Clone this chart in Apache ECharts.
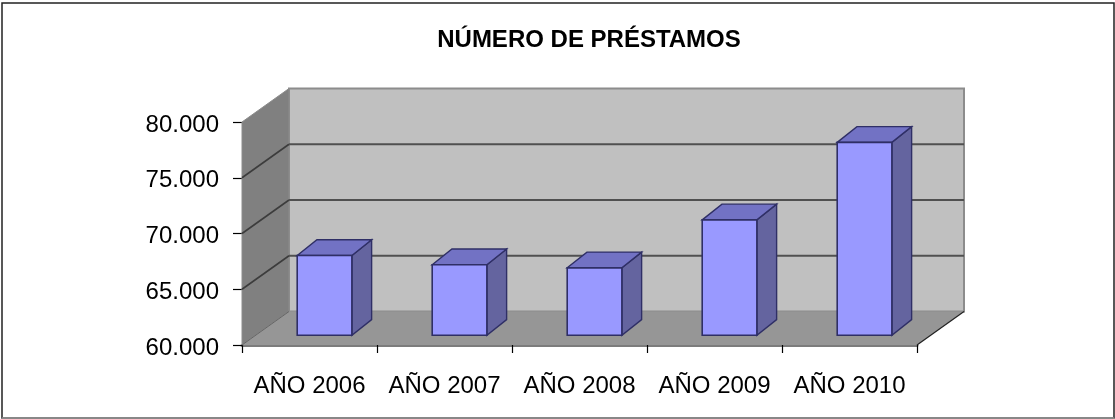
<!DOCTYPE html>
<html>
<head>
<meta charset="utf-8">
<style>
  html, body { margin: 0; padding: 0; background: #fff; }
  #main { width: 1115px; height: 419px; }
</style>
<script src="https://cdn.jsdelivr.net/npm/echarts@6/dist/echarts.min.js"></script>
</head>
<body>
<div id="main"></div>
<script>
var categories = ['AÑO 2006', 'AÑO 2007', 'AÑO 2008', 'AÑO 2009', 'AÑO 2010'];
var prestamos = [67150, 66320, 66050, 70350, 77300];
var yTicks = [60000, 65000, 70000, 75000, 80000];

// 3d look: how far the back wall sits from the front plane, in pixels
var DEPTH_X = 47;
var DEPTH_Y = -33.5;
// where the bars start and how deep they are, as share of the depth
var BAR_FRONT_X = 0.32;
var BAR_FRONT_Y = 0.29;
var BAR_DEPTH_X = 0.42;
var BAR_DEPTH_Y = 0.47;

function poly(points, fill, stroke, width) {
  return {
    type: 'polygon',
    shape: { points: points },
    style: { fill: fill, stroke: stroke || 'none', lineWidth: width || 0 }
  };
}

function seg(x1, y1, x2, y2, color, width) {
  return {
    type: 'line',
    shape: { x1: x1, y1: y1, x2: x2, y2: y2 },
    style: { stroke: color, lineWidth: width }
  };
}

// walls, floor and the gridlines on them
function renderWalls(params, api) {
  var cs = params.coordSys;
  var l = cs.x, r = cs.x + cs.width, t = cs.y, b = cs.y + cs.height;
  var kids = [
    poly([[l + DEPTH_X, t + DEPTH_Y], [r + DEPTH_X, t + DEPTH_Y], [r + DEPTH_X, b + DEPTH_Y], [l + DEPTH_X, b + DEPTH_Y]], '#c0c0c0', '#8c8c8c', 2),
    poly([[l, t], [l + DEPTH_X, t + DEPTH_Y], [l + DEPTH_X, b + DEPTH_Y], [l, b]], '#808080', '#8c8c8c', 1),
    poly([[l, b], [l + DEPTH_X, b + DEPTH_Y], [r + DEPTH_X, b + DEPTH_Y], [r, b]], '#969696')
  ];
  yTicks.slice(1, -1).forEach(function (v) {
    var y = api.coord([0, v])[1];
    kids.push(seg(l, y, l + DEPTH_X, y + DEPTH_Y, '#3c3c3c', 1.6));
    kids.push(seg(l + DEPTH_X, y + DEPTH_Y, r + DEPTH_X, y + DEPTH_Y, '#505050', 2));
  });
  kids.push(seg(r, b, r + DEPTH_X, b + DEPTH_Y, '#222', 1.2));
  kids.push(seg(l, b, l + DEPTH_X, b + DEPTH_Y, '#666', 1));
  return { type: 'group', children: kids };
}

function renderBar(params, api) {
  var top = api.coord([api.value(0), api.value(1)]);
  var base = api.coord([api.value(0), yTicks[0]]);
  var w = api.size([1, 0])[0] * 0.405;
  var ox = DEPTH_X * BAR_FRONT_X, oy = DEPTH_Y * BAR_FRONT_Y;
  var dx = DEPTH_X * BAR_DEPTH_X, dy = DEPTH_Y * BAR_DEPTH_Y;
  var x0 = top[0] - w / 2 + ox, x1 = x0 + w;
  var y0 = top[1] + oy, y1 = base[1] + oy;
  var edge = '#2f2f66';
  return {
    type: 'group',
    children: [
      poly([[x1, y0], [x1 + dx, y0 + dy], [x1 + dx, y1 + dy], [x1, y1]], '#64649f', edge, 1.4),
      poly([[x0, y0], [x0 + dx, y0 + dy], [x1 + dx, y0 + dy], [x1, y0]], '#7272c4', edge, 1.4),
      poly([[x0, y0], [x1, y0], [x1, y1], [x0, y1]], '#9999ff', edge, 1.6)
    ]
  };
}

var chart = echarts.init(document.getElementById('main'));
chart.setOption({
  animation: false,
  backgroundColor: '#fff',
  title: {
    text: 'NÚMERO DE PRÉSTAMOS',
    left: 584,
    top: 23,
    textAlign: 'center',
    textStyle: { fontFamily: 'Liberation Sans', fontSize: 24, fontWeight: 'bold', color: '#000' }
  },
  graphic: [
    {
      type: 'rect',
      silent: true,
      z: -1,
      shape: { x: 2, y: 3, width: 1112, height: 415 },
      style: { fill: '#fff', stroke: '#222', lineWidth: 1.5 }
    },
    {
      type: 'line',
      silent: true,
      z: -1,
      shape: { x1: 2, y1: 418, x2: 1114, y2: 418 },
      style: { stroke: '#999', lineWidth: 1.5 }
    }
  ],
  grid: { left: 242, right: 198, top: 122, bottom: 74 },
  xAxis: {
    type: 'category',
    data: categories,
    axisLine: { show: true, lineStyle: { color: '#7c7c7c', width: 3 } },
    axisTick: { show: true, interval: 0, length: 8, lineStyle: { color: '#000', width: 1.2 } },
    axisLabel: { interval: 0, margin: 29, color: '#000', fontFamily: 'Liberation Sans', fontSize: 24 }
  },
  yAxis: {
    type: 'value',
    min: 60000,
    max: 80000,
    interval: 5000,
    splitLine: { show: false },
    axisLine: { show: false },
    axisTick: { show: true, length: 9, lineStyle: { color: '#000', width: 1.2 } },
    axisLabel: {
      margin: 23,
      formatter: function (v) { return '{n|' + String(v).replace(/(\d)(\d{3})$/, '$1.$2') + '}'; },
      rich: {
        n: { color: '#000', fontFamily: 'Liberation Sans', fontSize: 24, padding: [6, 0, 0, 0] }
      }
    }
  },
  series: [
    { type: 'custom', renderItem: renderWalls, data: [[0, yTicks[0]]], silent: true, z: 1 },
    {
      type: 'custom',
      renderItem: renderBar,
      data: prestamos.map(function (v, i) { return [i, v]; }),
      encode: { x: 0, y: 1 },
      z: 2
    }
  ]
});
</script>
</body>
</html>
